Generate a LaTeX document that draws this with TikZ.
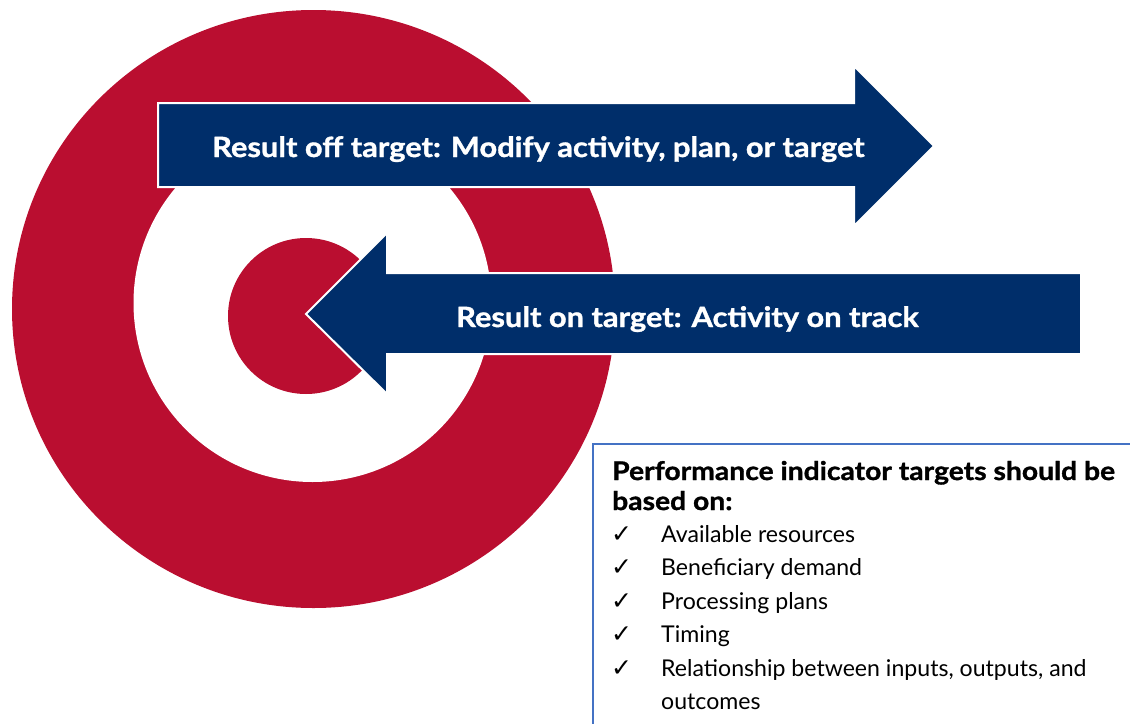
\documentclass[tikz,border=0pt]{standalone}
\usepackage{fontspec}
\setmainfont{Lato}[BoldFeatures={FakeStretch=1.1, FakeBold=1.2}]
\newfontfamily\checkfont{DejaVu Sans}
\definecolor{tred}{RGB}{186,14,48}
\definecolor{tnavy}{RGB}{0,46,106}
\definecolor{boxblue}{RGB}{68,114,196}
\tikzset{
  arrowshape/.style={fill=tnavy, draw=white, line width=2pt, line join=miter},
  arrowtext/.style={anchor=base west, inner sep=0pt, text=white, font=\fontsize{28}{32}\selectfont\bfseries},
  headtext/.style={anchor=base west, inner sep=0pt, font=\fontsize{25.7}{30}\selectfont\bfseries},
  itemtext/.style={anchor=base west, inner sep=0pt, font=\fontsize{23.1}{28}\selectfont},
  checktext/.style={anchor=base west, inner sep=0pt, font=\fontsize{25}{30}\selectfont\checkfont},
}
\begin{document}
\begin{tikzpicture}[x=1pt,y=-1pt]
\useasboundingbox (0,0) rectangle (1130,723);
\clip (0,0) rectangle (1130,723);
% target rings
\fill[tred] (313.5,309) ellipse[x radius=301.5pt, y radius=299pt];
\fill[white] (312.5,303) circle[radius=179pt];
\fill[tred] (306,316) circle[radius=78pt];
% arrows
\draw[arrowshape] (158,103) -- (854,103) -- (854,66) -- (934,146) -- (854,226) -- (854,187) -- (158,187) -- cycle;
\draw[arrowshape] (1081,273) -- (387,273) -- (387,233) -- (306,314) -- (387,394) -- (387,354) -- (1081,354) -- cycle;
\node[arrowtext] (offtxt) at (212,157) {Result off target: Modify activity, plan, or target};
\node[arrowtext] (ontxt) at (456,327) {Result on target: Activity on track};
% box
\draw[boxblue, line width=1.5pt] (593,444) rectangle (1145,745);
\node[headtext] (h1) at (612,480) {Performance indicator targets should be};
\node[headtext] (h2) at (612,510) {based on:};
\node[checktext] (c1) at (611,542) {✓};
\node[checktext] (c2) at (611,575) {✓};
\node[checktext] (c3) at (611,609) {✓};
\node[checktext] (c4) at (611,642) {✓};
\node[checktext] (c5) at (611,676) {✓};
\node[itemtext] (i1) at (661,542) {Available resources};
\node[itemtext] (i2) at (661,575) {Beneficiary demand};
\node[itemtext] (i3) at (661,609) {Processing plans};
\node[itemtext] (i4) at (661,642) {Timing};
\node[itemtext] (i5) at (661,676) {Relationship between inputs, outputs, and};
\node[itemtext] (i6) at (661,709) {outcomes};
\end{tikzpicture}
\end{document}
